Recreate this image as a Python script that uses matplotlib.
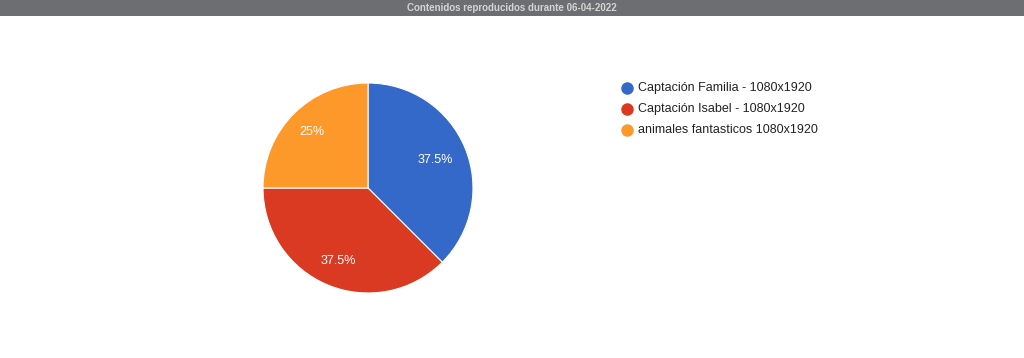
import matplotlib.pyplot as plt
from matplotlib.patches import Rectangle
from matplotlib.lines import Line2D

title = "Contenidos reproducidos durante 06-04-2022"
labels = ["Captación Familia - 1080x1920",
          "Captación Isabel - 1080x1920",
          "animales fantasticos 1080x1920"]
values = [3, 3, 2]
colors = ["#3569c9", "#d93a21", "#fd992a"]

plt.rcParams['font.family'] = ['Liberation Sans', 'DejaVu Sans']

fig = plt.figure(figsize=(10.24, 3.58), dpi=100)
fig.patch.set_facecolor("white")

# title bar
fig.patches.append(Rectangle((0, 1 - 16 / 358), 1, 16 / 358, transform=fig.transFigure,
                             facecolor="#6d6e71", edgecolor="none", zorder=0))
fig.text(0.5, 1 - 8 / 358, title, ha="center", va="center", color="#d4d4d4",
         fontsize=7, fontweight="bold")

ax = fig.add_axes([263 / 1024, (358 - 293) / 358, 210 / 1024, 210 / 358])
wedges, texts, autotexts = ax.pie(
    values, colors=colors, startangle=90, counterclock=False,
    autopct=lambda p: f"{p:g}%", pctdistance=0.75,
    wedgeprops=dict(edgecolor="white", linewidth=0.8),
    textprops=dict(color="white", fontsize=9))
# first label sits a bit closer to the centre
x0, y0 = autotexts[0].get_position()
autotexts[0].set_position((x0 * 0.92, y0 * 0.92))
ax.set_xlim(-1, 1)
ax.set_ylim(-1, 1)
ax.set_aspect("equal")

# legend
for i, (lab, c) in enumerate(zip(labels, colors)):
    y = 1 - (88 + i * 21) / 358
    fig.add_artist(Line2D([627 / 1024], [y], marker="o", markersize=9, color=c,
                          markeredgewidth=0, transform=fig.transFigure))
    fig.text(638 / 1024, y, lab, color="#222222", fontsize=9, ha="left", va="center")

fig.savefig("out.png", dpi=100)
